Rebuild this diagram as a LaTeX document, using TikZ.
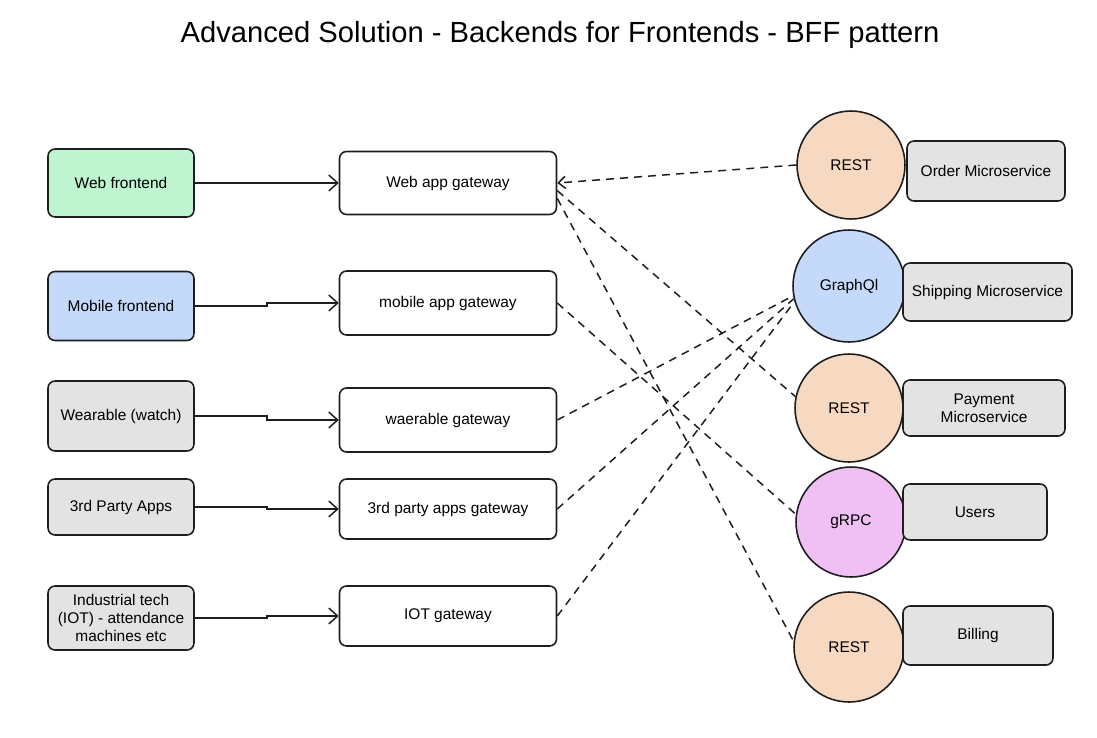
\documentclass[tikz,border=0pt]{standalone}
\usepackage{fontspec}
\setmainfont{Liberation Sans}
\usetikzlibrary{arrows.meta,calc}

\definecolor{edge}{RGB}{30,30,30}
\definecolor{webgreen}{RGB}{190,245,208}
\definecolor{mobblue}{RGB}{197,218,250}
\definecolor{boxgray}{RGB}{227,227,227}
\definecolor{restorange}{RGB}{247,216,192}
\definecolor{rpcpink}{RGB}{240,192,245}

\tikzset{
  box/.style={draw=edge, line width=0.9pt, rounded corners=4pt, inner sep=2pt,
    align=center, font=\fontsize{8.8}{10.3}\selectfont},
  client/.style={box, fill=boxgray, minimum width=2.92cm},
  gateway/.style={box, fill=white, minimum width=4.34cm},
  service/.style={box, fill=boxgray},
  proto/.style={circle, draw=edge, line width=0.9pt, inner sep=0pt,
    font=\fontsize{8.8}{10.3}\selectfont},
  link/.style={draw=edge, line width=0.85pt, -{Straight Barb[length=5pt,width=9pt]}},
  dashlink/.style={draw=edge, line width=0.85pt, dash pattern=on 4.5pt off 3.5pt}
}

\begin{document}
\begin{tikzpicture}[x=0.02cm, y=-0.02cm]
\useasboundingbox (0,0) rectangle (1097,737);

\node (title) at (560,35) {\fontsize{16.6}{19}\selectfont Advanced Solution - Backends for Frontends - BFF pattern};

% clients
\node[client, fill=webgreen, minimum height=1.36cm] (web) at (121,183) {Web frontend};
\node[client, fill=mobblue, minimum height=1.38cm] (mob) at (121,306) {Mobile frontend};
\node[client, minimum height=1.4cm] (wear) at (121,416) {Wearable (watch)};
\node[client, minimum height=1.12cm] (third) at (121,507) {3rd Party Apps};
\node[client, minimum height=1.28cm] (iot) at (121,618) {Industrial tech\\(IOT) - attendance\\machines etc};

% gateways
\node[gateway, minimum height=1.26cm] (webgw) at (448,183) {Web app gateway};
\node[gateway, minimum height=1.28cm] (mobgw) at (448,303) {mobile app gateway};
\node[gateway, minimum height=1.28cm] (weargw) at (448,420) {waerable gateway};
\node[gateway, minimum height=1.2cm] (thirdgw) at (448,509) {3rd party apps gateway};
\node[gateway, minimum height=1.2cm] (iotgw) at (448,616) {IOT gateway};

% protocols
\node[proto, fill=restorange, minimum size=2.16cm] (rest1) at (851,165) {REST};
\node[proto, fill=mobblue, minimum size=2.24cm] (gql) at (849,286) {GraphQl};
\node[proto, fill=restorange, minimum size=2.16cm] (rest2) at (849,408) {REST};
\node[proto, fill=rpcpink, minimum size=2.2cm] (grpc) at (851,522) {gRPC};
\node[proto, fill=restorange, minimum size=2.2cm] (rest3) at (849,647) {REST};

% services
\node[service, minimum width=3.16cm, minimum height=1.2cm] (order) at (986,171) {Order Microservice};
\node[service, minimum width=3.38cm, minimum height=1.16cm] (ship) at (987.5,292) {Shipping Microservice};
\node[service, minimum width=3.24cm, minimum height=1.12cm] (pay) at (984,408) {Payment\\Microservice};
\node[service, minimum width=2.88cm, minimum height=1.12cm] (users) at (975,512) {Users};
\node[service, minimum width=3.0cm, minimum height=1.18cm] (bill) at (978,635.5) {Billing};

% client -> gateway
\draw[link] (web.east) -| ($(web.east)!.5!(webgw.west)$) |- (webgw.west);
\draw[link] (mob.east) -| ($(mob.east)!.5!(mobgw.west)$) |- (mobgw.west);
\draw[link] (wear.east) -| ($(wear.east)!.5!(weargw.west)$) |- (weargw.west);
\draw[link] (third.east) -| ($(third.east)!.5!(thirdgw.west)$) |- (thirdgw.west);
\draw[link] (iot.east) -| ($(iot.east)!.5!(iotgw.west)$) |- (iotgw.west);

% gateway -- protocol
\draw[dashlink, -{Straight Barb[length=4pt,width=7pt]}] (rest1.180) -- (webgw.east);
\draw[dashlink] (webgw.-4) -- (rest2.168);
\draw[dashlink] (webgw.-8) -- (rest3.174);
\draw[dashlink] (mobgw.east) -- (grpc.172);
\draw[dashlink] (weargw.east) -- (gql.190);
\draw[dashlink] (thirdgw.east) -- (gql.193);
\draw[dashlink] (iotgw.east) -- (gql.196);
\end{tikzpicture}
\end{document}
